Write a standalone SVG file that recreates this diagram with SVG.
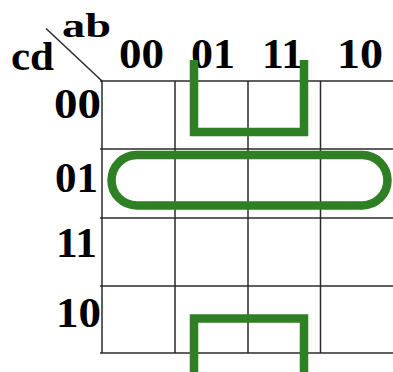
<svg xmlns="http://www.w3.org/2000/svg" width="393" height="372" viewBox="0 0 393 372">
<style>
.grid{stroke:#2a2a2a;stroke-width:1.5;fill:none}
.lbl{font-family:"Liberation Serif","Times New Roman",serif;font-weight:bold;font-size:42px;fill:#000}
.grp{stroke:#2f7f25;stroke-width:8.5;fill:none}
</style>
<rect width="393" height="372" fill="#fff"/>
<g id="grid">
<line class="grid" x1="46" y1="28.5" x2="102" y2="81"/>
<line class="grid" x1="100" y1="81" x2="393" y2="81"/>
<line class="grid" x1="100" y1="149" x2="393" y2="149"/>
<line class="grid" x1="100" y1="218" x2="393" y2="218"/>
<line class="grid" x1="100" y1="286" x2="393" y2="286"/>
<line class="grid" x1="100" y1="353" x2="393" y2="353"/>
<line class="grid" x1="102" y1="81" x2="102" y2="353"/>
<line class="grid" x1="175" y1="81" x2="175" y2="353"/>
<line class="grid" x1="248" y1="81" x2="248" y2="353"/>
<line class="grid" x1="320.5" y1="81" x2="320.5" y2="353"/>
</g>
<g id="labels">
<text class="lbl" x="62" y="37" style="font-size:34px" textLength="49" lengthAdjust="spacingAndGlyphs">ab</text>
<text class="lbl" x="11" y="70" style="font-size:40px" textLength="43" lengthAdjust="spacingAndGlyphs">cd</text>
<text class="lbl" x="119" y="68" textLength="45" lengthAdjust="spacingAndGlyphs">00</text>
<text class="lbl" x="191" y="68" textLength="44" lengthAdjust="spacingAndGlyphs">01</text>
<text class="lbl" x="262" y="68" textLength="41" lengthAdjust="spacingAndGlyphs">11</text>
<text class="lbl" x="337" y="68" textLength="46" lengthAdjust="spacingAndGlyphs">10</text>
<text class="lbl" x="54" y="118" textLength="47" lengthAdjust="spacingAndGlyphs">00</text>
<text class="lbl" x="55" y="191.5" textLength="43" lengthAdjust="spacingAndGlyphs">01</text>
<text class="lbl" x="56" y="256.5" textLength="41" lengthAdjust="spacingAndGlyphs">11</text>
<text class="lbl" x="56" y="327" textLength="45" lengthAdjust="spacingAndGlyphs">10</text>
</g>
<g id="groups">
<path class="grp" d="M194 60 V132 H304 V60"/>
<rect class="grp" x="111.5" y="155" width="276" height="50.5" rx="25.25"/>
<path class="grp" d="M194 372 V318.5 H304 V372"/>
</g>
</svg>
